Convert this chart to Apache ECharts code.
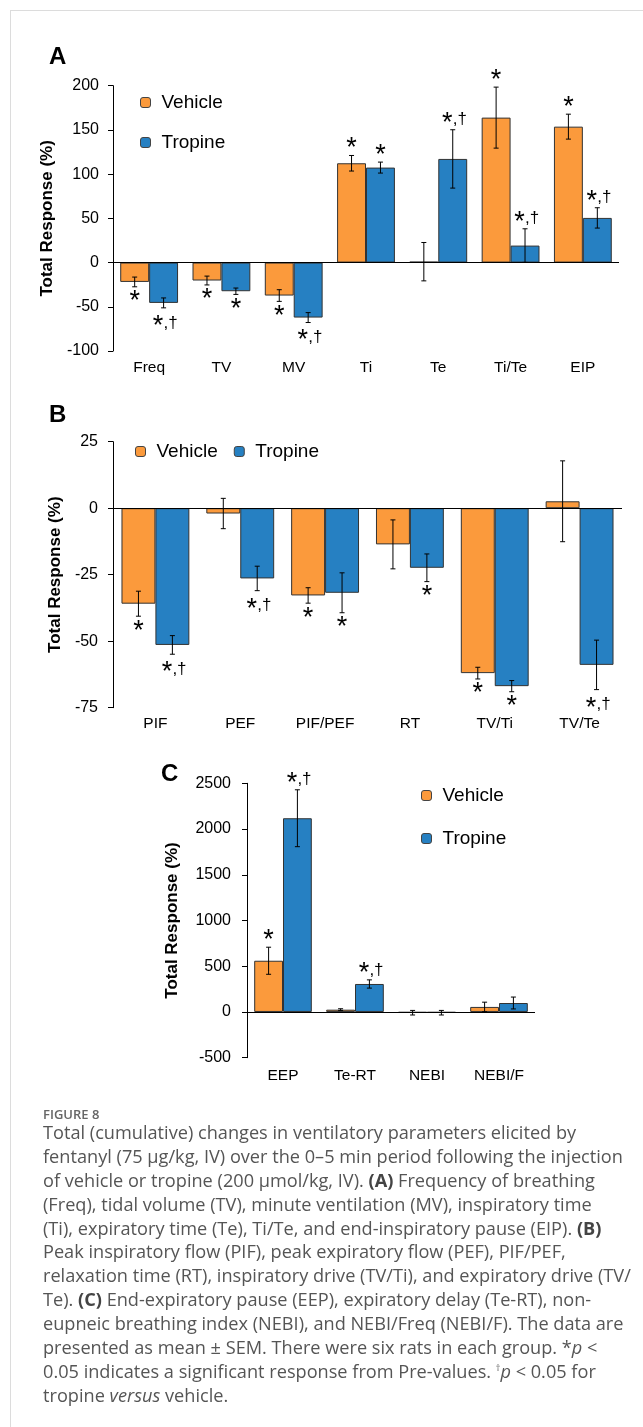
<!DOCTYPE html>
<html>
<head>
<meta charset="utf-8">
<script src="https://cdn.jsdelivr.net/npm/echarts@6/dist/echarts.min.js"></script>
<style>
  html, body { margin:0; padding:0; background:#fff; }
  #frame { position:absolute; left:10px; top:10px; width:640px; height:1420px; border-top:1px solid #dcdcdc; border-left:1px solid #dcdcdc; }
  #chart { position:absolute; left:0; top:0; width:643px; height:1427px; }
  #figlab { position:absolute; left:43px; top:1105px; font-family:"Open Sans"; font-weight:600; font-size:13px; color:#666; }
  #caption { position:absolute; left:43px; top:1121px; font-family:"Open Sans"; font-size:16px; line-height:23.9px; color:#555; white-space:nowrap; }
  #caption div { height:23.9px; }
  #caption b { color:#444; }
</style>
</head>
<body>
<div id="frame"></div>
<div id="chart"></div>
<div id="figlab">FIGURE 8</div>
<div id="caption">
<div>Total (cumulative) changes in ventilatory parameters elicited by</div>
<div id="ref">fentanyl (75 μg/kg, IV) over the 0–5 min period following the injection</div>
<div>of vehicle or tropine (200 μmol/kg, IV). <b>(A)</b> Frequency of breathing</div>
<div>(Freq), tidal volume (TV), minute ventilation (MV), inspiratory time</div>
<div>(Ti), expiratory time (Te), Ti/Te, and end-inspiratory pause (EIP). <b>(B)</b></div>
<div>Peak inspiratory flow (PIF), peak expiratory flow (PEF), PIF/PEF,</div>
<div>relaxation time (RT), inspiratory drive (TV/Ti), and expiratory drive (TV/</div>
<div>Te). <b>(C)</b> End-expiratory pause (EEP), expiratory delay (Te-RT), non-</div>
<div>eupneic breathing index (NEBI), and NEBI/Freq (NEBI/F). The data are</div>
<div>presented as mean ± SEM. There were six rats in each group. *<i>p</i> &lt;</div>
<div>0.05 indicates a significant response from Pre-values. <sup style="font-size:9px;line-height:0">†</sup><i>p</i> &lt; 0.05 for</div>
<div>tropine <i>versus</i> vehicle.</div>
</div>
<script>
// ---------- Panel A data ----------
const categoriesA = ['Freq', 'TV', 'MV', 'Ti', 'Te', 'Ti/Te', 'EIP'];
const vehicleA    = [-21.9, -20.3, -37.3, 112.3, 1.0, 163.9, 153.7];
const vehicleErrA = [5.5, 5.0, 6.6, 8.8, 21.7, 34.5, 14.1];
const tropineA    = [-45.6, -32.4, -62.2, 107.4, 117.2, 19.2, 50.5];
const tropineErrA = [5.6, 3.6, 5.6, 6.2, 33.0, 19.0, 11.5];
const vehicleSigA = ['*', '*', '*', '*', '', '*', '*'];
const tropineSigA = ['*,†', '*', '*,†', '*', '*,†', '*,†', '*,†'];

// ---------- Panel B data ----------
const categoriesB = ['PIF', 'PEF', 'PIF/PEF', 'RT', 'TV/Ti', 'TV/Te'];
const vehicleB    = [-35.9, -2.0, -32.8, -13.6, -62.0, 2.6];
const vehicleErrB = [4.7, 5.7, 2.9, 9.2, 2.2, 15.2];
const tropineB    = [-51.4, -26.4, -31.8, -22.4, -66.9, -58.9];
const tropineErrB = [3.5, 4.6, 7.5, 5.2, 2.1, 9.3];
const vehicleSigB = ['*', '', '*', '', '*', ''];
const tropineSigB = ['*,†', '*,†', '*', '*', '*', '*,†'];

// ---------- Panel C data ----------
const categoriesC = ['EEP', 'Te-RT', 'NEBI', 'NEBI/F'];
const vehicleC    = [560, 25, -8, 55];
const vehicleErrC = [148, 10, 25, 52];
const tropineC    = [2118, 306, -8, 98];
const tropineErrC = [311, 45, 25, 65];
const vehicleSigC = ['*', '', '', ''];
const tropineSigC = ['*,†', '*,†', '', ''];

const ORANGE = '#FB9A3C';
const BLUE = '#2680C2';
const FONT = '"Liberation Sans", Arial, sans-serif';
const STAR = 27;      // size of the big asterisk
const DAG = 17;       // size of ",†"

function errSeries(values, errs, sigs, side, ai) {
  return {
    type: 'custom', xAxisIndex: ai, yAxisIndex: ai, z: 10, silent: true,
    data: values.map((v, i) => [i, v, errs[i]]),
    renderItem: function (params, api) {
      const i = api.value(0), v = api.value(1), e = api.value(2);
      const band = api.size([1, 0])[0];
      const cx = api.coord([i, v])[0] + side * band * 0.2;
      const yTop = api.coord([i, v + e])[1];
      const yBot = api.coord([i, v - e])[1];
      const cap = 2.5;
      const st = { stroke: '#000', lineWidth: 1 };
      const children = [
        { type: 'line', shape: { x1: cx, y1: yTop, x2: cx, y2: yBot }, style: st },
        { type: 'line', shape: { x1: cx - cap, y1: yTop, x2: cx + cap, y2: yTop }, style: st },
        { type: 'line', shape: { x1: cx - cap, y1: yBot, x2: cx + cap, y2: yBot }, style: st }
      ];
      const s = sigs[params.dataIndex];
      if (s) {
        const pos = v >= 0;
        const combo = s.length > 1;
        const starC = pos ? yTop - 13 : yBot + (combo ? 12 : 8.5);
        const starX = combo ? cx - 5.5 : cx;
        children.push({
          type: 'text',
          style: {
            text: '*', x: starX, y: starC + 0.24 * STAR,
            align: 'center', verticalAlign: 'middle',
            fontSize: STAR, fontFamily: FONT, fill: '#000'
          }
        });
        if (combo) {
          children.push({
            type: 'text',
            style: {
              text: s.slice(1), x: cx, y: starC + 3,
              align: 'left', verticalAlign: 'middle',
              fontSize: DAG, fontFamily: FONT, fill: '#000'
            }
          });
        }
      }
      return { type: 'group', children: children };
    }
  };
}

function barSeries(name, values, color, ai, withZero) {
  const s = {
    name: name, type: 'bar', xAxisIndex: ai, yAxisIndex: ai,
    data: values, barGap: '0%', barCategoryGap: '20%',
    itemStyle: { color: color, borderColor: '#333', borderWidth: 1 },
    emphasis: { disabled: true }
  };
  if (withZero) {
    s.markLine = {
      silent: true, symbol: 'none', label: { show: false },
      lineStyle: { color: '#000', width: 1, type: 'solid' },
      data: [{ yAxis: 0 }], animation: false
    };
  }
  return s;
}

function xAxis(cats, gi, margin) {
  return {
    type: 'category', gridIndex: gi, data: cats,
    axisLine: { show: false }, axisTick: { show: false },
    axisLabel: { fontSize: 15.5, fontFamily: FONT, color: '#000', margin: margin }
  };
}

function yAxis(gi, min, max, interval, gap, lmargin) {
  return {
    type: 'value', gridIndex: gi, min: min, max: max, interval: interval,
    name: 'Total Response (%)', nameLocation: 'middle', nameRotate: 90, nameGap: gap,
    nameTextStyle: { fontSize: 17, fontWeight: 'bold', fontFamily: FONT, color: '#000' },
    axisLine: { show: true, lineStyle: { color: '#000', width: 1 } },
    axisTick: { show: true, length: 5, lineStyle: { color: '#000' } },
    splitLine: { show: false },
    axisLabel: { fontSize: 16, fontFamily: FONT, color: '#000', margin: lmargin,
                 formatter: function (v) { return String(v); } }
  };
}

const legendBase = {
  data: ['Vehicle', 'Tropine'], itemWidth: 10, itemHeight: 10,
  itemStyle: { borderColor: '#444', borderWidth: 1 },
  textStyle: { fontSize: 19, fontFamily: FONT, color: '#000', padding: [0, 0, 0, 6] },
  selectedMode: false
};

const chart = echarts.init(document.getElementById('chart'), null, { renderer: 'canvas' });
chart.setOption({
  animation: false,
  title: [
    { text: 'A', left: 44, top: 40, textStyle: { fontSize: 24, fontWeight: 'bold', fontFamily: FONT, color: '#000' } },
    { text: 'B', left: 44, top: 398, textStyle: { fontSize: 24, fontWeight: 'bold', fontFamily: FONT, color: '#000' } },
    { text: 'C', left: 156, top: 757, textStyle: { fontSize: 24, fontWeight: 'bold', fontFamily: FONT, color: '#000' } }
  ],
  legend: [
    Object.assign({}, legendBase, { orient: 'vertical', left: 135, top: 88, itemGap: 21 }),
    Object.assign({}, legendBase, { orient: 'horizontal', left: 130, top: 437, itemGap: 16 }),
    Object.assign({}, legendBase, { orient: 'vertical', left: 416, top: 781, itemGap: 24 })
  ],
  grid: [
    { left: 113, top: 85.7, width: 506, height: 265.3 },
    { left: 113, top: 441.7, width: 509, height: 266 },
    { left: 247, top: 783.3, width: 288, height: 274.4 }
  ],
  xAxis: [xAxis(categoriesA, 0, 9), xAxis(categoriesB, 1, 8), xAxis(categoriesC, 2, 10)],
  yAxis: [yAxis(0, -100, 200, 50, 45, 14), yAxis(1, -75, 25, 25, 45, 15), yAxis(2, -500, 2500, 500, 66, 16)],
  series: [
    barSeries('Vehicle', vehicleA, ORANGE, 0, true),
    barSeries('Tropine', tropineA, BLUE, 0, false),
    errSeries(vehicleA, vehicleErrA, vehicleSigA, -1, 0),
    errSeries(tropineA, tropineErrA, tropineSigA, 1, 0),
    barSeries('Vehicle', vehicleB, ORANGE, 1, true),
    barSeries('Tropine', tropineB, BLUE, 1, false),
    errSeries(vehicleB, vehicleErrB, vehicleSigB, -1, 1),
    errSeries(tropineB, tropineErrB, tropineSigB, 1, 1),
    barSeries('Vehicle', vehicleC, ORANGE, 2, true),
    barSeries('Tropine', tropineC, BLUE, 2, false),
    errSeries(vehicleC, vehicleErrC, vehicleSigC, -1, 2),
    errSeries(tropineC, tropineErrC, tropineSigC, 1, 2)
  ]
});

// fit caption font so the reference line spans the same width as in the figure
(function () {
  const cap = document.getElementById('caption');
  const ref = document.getElementById('ref');
  const span = document.createElement('span');
  span.textContent = ref.textContent;
  span.style.whiteSpace = 'nowrap';
  ref.textContent = '';
  ref.appendChild(span);
  const w = span.getBoundingClientRect().width;
  const target = 580;
  const fs = 16 * target / w;
  cap.style.fontSize = fs.toFixed(2) + 'px';
})();
</script>
</body>
</html>
